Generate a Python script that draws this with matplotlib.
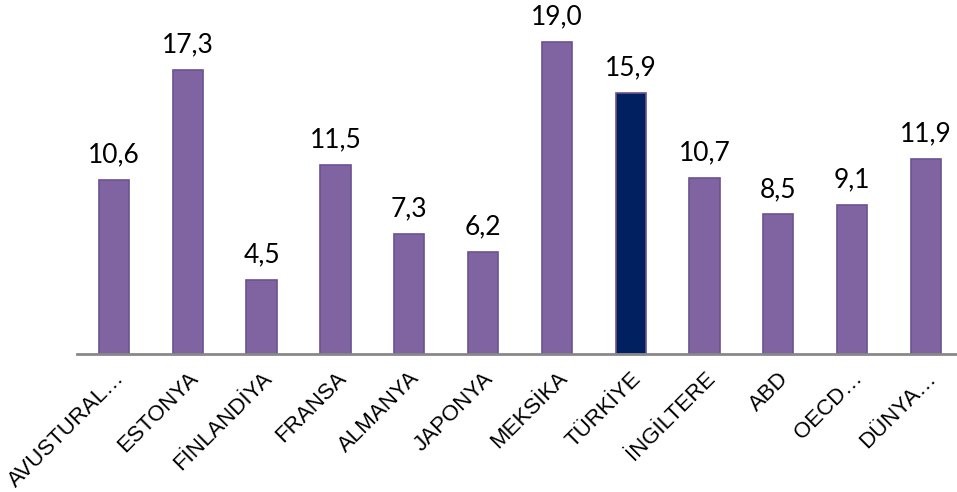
import matplotlib
matplotlib.use("Agg")
import matplotlib.pyplot as plt

categories = ["AVUSTURAL…", "ESTONYA", "FİNLANDİYA", "FRANSA", "ALMANYA", "JAPONYA",
              "MEKSİKA", "TÜRKİYE", "İNGİLTERE", "ABD", "OECD…", "DÜNYA…"]
values = [10.6, 17.3, 4.5, 11.5, 7.3, 6.2, 19.0, 15.9, 10.7, 8.5, 9.1, 11.9]
value_labels = ["10,6", "17,3", "4,5", "11,5", "7,3", "6,2", "19,0", "15,9", "10,7", "8,5", "9,1", "11,9"]
highlight = "TÜRKİYE"

fig = plt.figure(figsize=(9.57, 4.92), dpi=100)
ax = fig.add_axes([77/957, 138/492, 1 - 77/957, 328.4/492])

colors = ["#002060" if c == highlight else "#8064A2" for c in categories]
x = list(range(len(categories)))
ax.bar(x, values, width=0.41, color=colors, edgecolor="#6B5290", linewidth=1.2, zorder=2)

for xi, v, lab in zip(x, values, value_labels):
    ax.annotate(lab, (xi, v), xytext=(0, 9), textcoords="offset points",
                ha="center", va="bottom", fontsize=19, family="Lato", color="black")

ax.set_xlim(-0.5, 11.42)
ax.set_ylim(0, 20)
ax.set_yticks([])
for s in ["top", "right", "left"]:
    ax.spines[s].set_visible(False)
ax.spines["bottom"].set_color("#888888")
ax.spines["bottom"].set_linewidth(2)
ax.set_xticks(x)
ax.set_xticklabels(categories)
ax.tick_params(axis="x", length=0, pad=10)
for lbl in ax.get_xticklabels():
    lbl.set_rotation(45)
    lbl.set_ha("right")
    lbl.set_va("top")
    lbl.set_rotation_mode("anchor")
    lbl.set_fontsize(16)
    lbl.set_family("Liberation Sans")

fig.savefig("out.png", dpi=100)
